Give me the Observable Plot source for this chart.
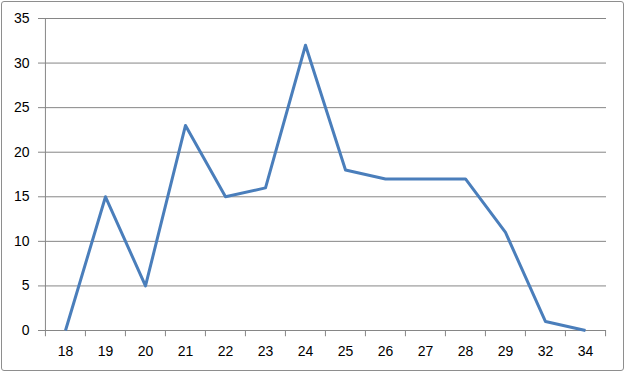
<!DOCTYPE html>
<html>
<head>
<meta charset="utf-8">
<script src="https://cdn.jsdelivr.net/npm/d3@7"></script>
<script src="https://cdn.jsdelivr.net/npm/@observablehq/plot@0.6"></script>
<style>
  html, body { margin: 0; padding: 0; background: #fff; }
  #wrap { position: relative; width: 626px; height: 373px; }
  #border { position: absolute; left: 1px; top: 1px; width: 621px; height: 368px; border: 1px solid #8e8e8e; border-radius: 3px; pointer-events: none; }
</style>
</head>
<body>
<div id="wrap"><div id="border"></div></div>
<script>
const categories = ["18","19","20","21","22","23","24","25","26","27","28","29","32","34"];
const values = [0, 15, 5, 23, 15, 16, 32, 18, 17, 17, 17, 11, 1, 0];
const yTicks = [0, 5, 10, 15, 20, 25, 30, 35];

const data = categories.map((c, i) => ({cat: c, v: values[i]}));
const W = 626, H = 373, mL = 44, mR = 20, mT = 18, mB = 43;
const bw = (W - mL - mR) / categories.length;
const gridColor = "#868686";

const chart = Plot.plot({
  width: W, height: H,
  marginLeft: mL, marginRight: mR, marginTop: mT, marginBottom: mB,
  style: {fontFamily: "'Liberation Sans', Arial, sans-serif", fontSize: "14px", color: "#000", background: "transparent"},
  x: {type: "band", domain: categories, padding: 0, axis: null, label: null},
  y: {domain: [0, 35], axis: null, label: null},
  marks: [
    Plot.ruleY(yTicks, {stroke: gridColor, strokeWidth: 1}),
    Plot.ruleX([categories[0]], {x: d => d, dx: -bw / 2, stroke: gridColor}),
    Plot.ruleX(categories, {x: d => d, dx: -bw / 2, y1: 0, y2: -0.7, stroke: gridColor}),
    Plot.ruleX([categories[categories.length - 1]], {x: d => d, dx: bw / 2, y1: 0, y2: -0.7, stroke: gridColor}),
    Plot.axisY(yTicks, {tickSize: 6, tickPadding: 9, stroke: gridColor, fontSize: 14, fill: "#000", label: null}),
    Plot.axisX({tickSize: 0, tickPadding: 16, fontSize: 14, fill: "#000", label: null}),
    Plot.line(data, {x: "cat", y: "v", stroke: "#4a7ebb", strokeWidth: 3, strokeLinejoin: "round", strokeLinecap: "butt"})
  ]
});
document.getElementById("wrap").prepend(chart);
</script>
</body>
</html>
